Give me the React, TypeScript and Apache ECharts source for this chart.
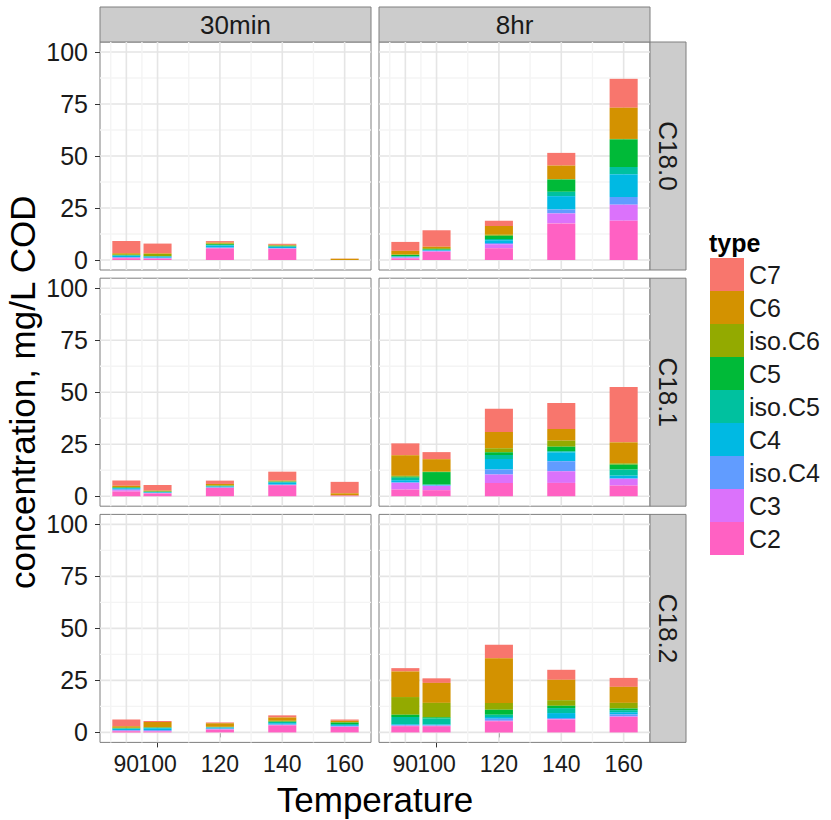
import React, { useEffect, useRef } from "react";
import * as echarts from "echarts";

// Fraction types, listed top of stack first (legend order)
const types = ["C7", "C6", "iso.C6", "C5", "iso.C5", "C4", "iso.C4", "C3", "C2"];
const typeColors = ["#F8766D", "#D39200", "#93AA00", "#00BA38", "#00C19F", "#00B9E3", "#619CFF", "#DB72FB", "#FF61C3"];
const temperatures = [90, 100, 120, 140, 160];
const times = ["30min", "8hr"];
const chains = ["C18.0", "C18.1", "C18.2"];
const yTicks = [0, 25, 50, 75, 100];
const yMinorTicks = [12.5, 37.5, 62.5, 87.5];
const xMinorTicks = [85, 95, 110, 130, 150];

// concentration (mg/L COD); rows follow `types`, columns follow `temperatures`
const c180_30min = [
  [6.0, 4.7, 0.7, 0.5, 0.1],
  [0.4, 0.3, 0.5, 0.3, 0.6],
  [0.4, 1.0, 0.3, 0.2, 0],
  [0.2, 0.2, 0.4, 0.3, 0],
  [0.2, 0.1, 0.2, 0.2, 0],
  [0.6, 0.5, 1.0, 0.6, 0],
  [0.3, 0.3, 0.3, 0.2, 0],
  [0.3, 0.2, 0.1, 0.1, 0],
  [0.8, 0.6, 5.6, 5.4, 0],
];
const c180_8hr = [
  [4.3, 7.9, 2.6, 6.1, 13.9],
  [1.7, 0.7, 4.2, 6.5, 15.0],
  [0.3, 0.5, 0.4, 0.2, 0.2],
  [0.6, 0.3, 1.6, 5.9, 13.3],
  [0.2, 0.2, 0.6, 2.1, 3.5],
  [0.3, 0.3, 1.3, 6.4, 10.9],
  [0.2, 0.2, 0.6, 1.9, 3.7],
  [0.3, 0.3, 2.0, 4.8, 7.7],
  [0.8, 3.9, 5.6, 17.6, 18.9],
];
const c181_30min = [
  [2.5, 2.7, 1.6, 4.3, 5.5],
  [0.6, 0.2, 0.7, 0.4, 1.1],
  [0.2, 0.3, 0.2, 0.1, 0],
  [0.2, 0.1, 0.2, 0.1, 0],
  [0.2, 0.2, 0.2, 0.4, 0],
  [0.4, 0.3, 0.4, 0.9, 0],
  [0.5, 0.1, 0.1, 0.2, 0],
  [0.6, 0.2, 0.1, 0.1, 0],
  [2.3, 1.3, 4.0, 5.3, 0.3],
];
const c181_8hr = [
  [5.7, 3.4, 11.1, 12.5, 26.6],
  [9.9, 6.0, 7.9, 5.6, 10.1],
  [0.4, 0.2, 1.9, 2.9, 0.6],
  [0.5, 6.0, 1.3, 2.2, 2.4],
  [1.2, 0.2, 1.9, 0.5, 2.9],
  [1.0, 0.2, 5.1, 4.3, 1.3],
  [0.3, 0.3, 2.4, 4.8, 0.3],
  [3.2, 2.0, 4.0, 5.6, 3.2],
  [3.2, 2.9, 6.4, 6.4, 5.1],
];
const c182_30min = [
  [3.2, 0.5, 0.4, 1.0, 0.6],
  [0.8, 2.4, 1.7, 1.6, 0.6],
  [0.2, 0.3, 0.2, 0.4, 0.3],
  [0.1, 0.1, 0.1, 0.2, 0.7],
  [0.3, 0.2, 0.1, 0.6, 0.5],
  [0.4, 0.9, 0.5, 0.6, 0.4],
  [0.4, 0.4, 0.3, 0.2, 0.3],
  [0.3, 0.3, 0.2, 0.2, 0.2],
  [0.5, 0.4, 1.3, 3.4, 2.6],
];
const c182_8hr = [
  [1.6, 2.2, 6.4, 4.8, 4.3],
  [12.3, 9.6, 21.6, 9.8, 7.7],
  [8.5, 6.9, 3.2, 2.7, 2.7],
  [1.1, 0.6, 2.4, 1.1, 0.8],
  [3.5, 2.9, 1.1, 2.4, 1.0],
  [0.4, 0.4, 0.8, 2.4, 1.0],
  [0.3, 0.2, 1.0, 0.5, 1.0],
  [0.2, 0.2, 0.2, 0.2, 0.3],
  [3.0, 3.0, 5.4, 6.2, 7.4],
];

// panels[row = chain][col = time]
const panels = [
  [c180_30min, c180_8hr],
  [c181_30min, c181_8hr],
  [c182_30min, c182_8hr],
];

const FONT = "Liberation Sans, Arial, sans-serif";
const TEXT = "#1A1A1A";
const X_MIN = 81.55;
const X_MAX = 168.45;
const Y_MIN = -4.8;
const Y_MAX = 104.8;
const BAR_HALF = 4.5;

const COL_LEFT = [100, 379];
const ROW_TOP = [42, 278.2, 514.4];
const PANEL_W = 271;
const PANEL_H = 228;

// 90 and 100 sit close together, so their labels live on two stacked axes
// to keep ECharts from dropping one of them as an overlap.
const labelSetA = temperatures.filter((_, i) => i !== 1);
const labelSetB = [temperatures[1]];

function xAxisFor(gridIndex: number, labelled: boolean, labels: number[], ticks: number[]) {
  return {
    type: "value",
    gridIndex,
    position: "bottom",
    min: X_MIN,
    max: X_MAX,
    axisLine: { show: false },
    splitLine: { show: false },
    axisTick: {
      show: labelled,
      customValues: ticks,
      length: 5,
      lineStyle: { color: "#333333", width: 1 },
    },
    axisLabel: {
      show: labelled,
      customValues: labels,
      showMinLabel: true,
      showMaxLabel: true,
      fontSize: 23,
      fontFamily: FONT,
      color: TEXT,
      margin: 10,
    },
  };
}

function buildOption() {
  const grid: any[] = [];
  const xAxis: any[] = [];
  const extraXAxis: any[] = [];
  const yAxis: any[] = [];
  const series: any[] = [];
  const graphic: any[] = [];

  chains.forEach((chain, r) => {
    times.forEach((time, c) => {
      const idx = r * 2 + c;
      const isBottom = r === chains.length - 1;
      const isLeft = c === 0;
      grid.push({
        left: COL_LEFT[c],
        top: ROW_TOP[r],
        width: PANEL_W,
        height: PANEL_H,
        show: true,
        backgroundColor: "#FFFFFF",
        borderColor: "#7F7F7F",
        borderWidth: 1,
      });
      xAxis.push(xAxisFor(idx, isBottom, labelSetA, temperatures));
      if (isBottom) extraXAxis.push(xAxisFor(idx, true, labelSetB, labelSetB));
      yAxis.push({
        type: "value",
        gridIndex: idx,
        min: Y_MIN,
        max: Y_MAX,
        axisLine: { show: false },
        splitLine: { show: false },
        axisTick: {
          show: isLeft,
          customValues: yTicks,
          length: 5,
          lineStyle: { color: "#333333", width: 1 },
        },
        axisLabel: {
          show: isLeft,
          customValues: yTicks,
          showMinLabel: true,
          showMaxLabel: true,
          fontSize: 25,
          fontFamily: FONT,
          color: TEXT,
          margin: 12,
        },
      });

      // panel grid lines
      const gridLines: number[][] = [];
      yTicks.forEach((v) => gridLines.push([0, v, 1]));
      yMinorTicks.forEach((v) => gridLines.push([0, v, 0]));
      temperatures.forEach((v) => gridLines.push([1, v, 1]));
      xMinorTicks.forEach((v) => gridLines.push([1, v, 0]));
      series.push({
        type: "custom",
        name: "grid-" + idx,
        xAxisIndex: idx,
        yAxisIndex: idx,
        silent: true,
        z: 1,
        data: gridLines,
        renderItem: (params: any, api: any) => {
          const cs = params.coordSys;
          const orient = api.value(0);
          const v = api.value(1);
          const major = api.value(2) === 1;
          const style = {
            stroke: major ? "#E5E5E5" : "#F4F4F4",
            lineWidth: major ? 1.6 : 1.4,
          };
          if (orient === 0) {
            const y = api.coord([X_MIN, v])[1];
            return { type: "line", shape: { x1: cs.x, y1: y, x2: cs.x + cs.width, y2: y }, style };
          }
          const x = api.coord([v, 0])[0];
          return { type: "line", shape: { x1: x, y1: cs.y, x2: x, y2: cs.y + cs.height }, style };
        },
      });

      // stacked bars, C2 at the bottom
      const values = panels[r][c];
      const base = temperatures.map(() => 0);
      const stacks: any[][] = types.map(() => []);
      for (let k = types.length - 1; k >= 0; k--) {
        temperatures.forEach((t, i) => {
          const v = values[k][i];
          stacks[k].push([t, base[i], base[i] + v]);
          base[i] += v;
        });
      }
      types.forEach((name, k) => {
        series.push({
          type: "custom",
          name,
          xAxisIndex: idx,
          yAxisIndex: idx,
          z: 3,
          itemStyle: { color: typeColors[k] },
          encode: { x: 0, y: [1, 2] },
          data: stacks[k],
          renderItem: (params: any, api: any) => {
            const t = api.value(0);
            const y0 = api.value(1);
            const y1 = api.value(2);
            if (y1 - y0 <= 0) return null;
            const p0 = api.coord([t - BAR_HALF, y0]);
            const p1 = api.coord([t + BAR_HALF, y1]);
            return {
              type: "rect",
              shape: { x: p0[0], y: p1[1], width: p1[0] - p0[0], height: p0[1] - p1[1] },
              style: { fill: typeColors[k] },
            };
          },
        });
      });
    });
  });

  // facet strips
  times.forEach((time, c) => {
    graphic.push({
      type: "rect",
      shape: { x: COL_LEFT[c], y: 7, width: PANEL_W, height: 35 },
      style: { fill: "#CCCCCC", stroke: "#7F7F7F", lineWidth: 1 },
    });
    graphic.push({
      type: "text",
      x: COL_LEFT[c] + PANEL_W / 2,
      y: 25,
      style: { text: time, fontSize: 26, fontFamily: FONT, fill: TEXT, align: "center", verticalAlign: "middle" },
    });
  });
  chains.forEach((chain, r) => {
    const sx = COL_LEFT[1] + PANEL_W;
    graphic.push({
      type: "rect",
      shape: { x: sx, y: ROW_TOP[r], width: 36, height: PANEL_H },
      style: { fill: "#CCCCCC", stroke: "#7F7F7F", lineWidth: 1 },
    });
    graphic.push({
      type: "text",
      x: sx + 18,
      y: ROW_TOP[r] + PANEL_H / 2,
      rotation: -Math.PI / 2,
      style: { text: chain, fontSize: 26, fontFamily: FONT, fill: TEXT, align: "center", verticalAlign: "middle" },
    });
  });

  // axis titles and legend title
  graphic.push({
    type: "text",
    x: 22,
    y: (ROW_TOP[0] + ROW_TOP[2] + PANEL_H) / 2,
    rotation: Math.PI / 2,
    style: {
      text: "concentration, mg/L COD",
      fontSize: 35,
      fontFamily: FONT,
      fill: "#000000",
      align: "center",
      verticalAlign: "middle",
    },
  });
  graphic.push({
    type: "text",
    x: (COL_LEFT[0] + COL_LEFT[1] + PANEL_W) / 2,
    y: 799,
    style: { text: "Temperature", fontSize: 35, fontFamily: FONT, fill: "#000000", align: "center", verticalAlign: "middle" },
  });
  graphic.push({
    type: "text",
    x: 709,
    y: 243,
    style: { text: "type", fontSize: 25, fontWeight: "bold", fontFamily: FONT, fill: "#000000", align: "left", verticalAlign: "middle" },
  });

  return {
    animation: false,
    backgroundColor: "#FFFFFF",
    grid,
    xAxis: xAxis.concat(extraXAxis),
    yAxis,
    series,
    graphic,
    legend: {
      data: types,
      orient: "vertical",
      left: 710,
      top: 258,
      padding: 0,
      itemWidth: 34,
      itemHeight: 33,
      itemGap: 0,
      icon: "rect",
      selectedMode: false,
      textStyle: { fontSize: 25, fontFamily: FONT, color: TEXT },
    },
  };
}

export default function App() {
  const ref = useRef<HTMLDivElement>(null);
  useEffect(() => {
    if (!ref.current) return;
    const chart = echarts.init(ref.current, undefined, { renderer: "svg" });
    chart.setOption(buildOption());
    return () => chart.dispose();
  }, []);
  return <div ref={ref} style={{ position: "absolute", left: 0, top: 0, width: 831, height: 820 }} />;
}
